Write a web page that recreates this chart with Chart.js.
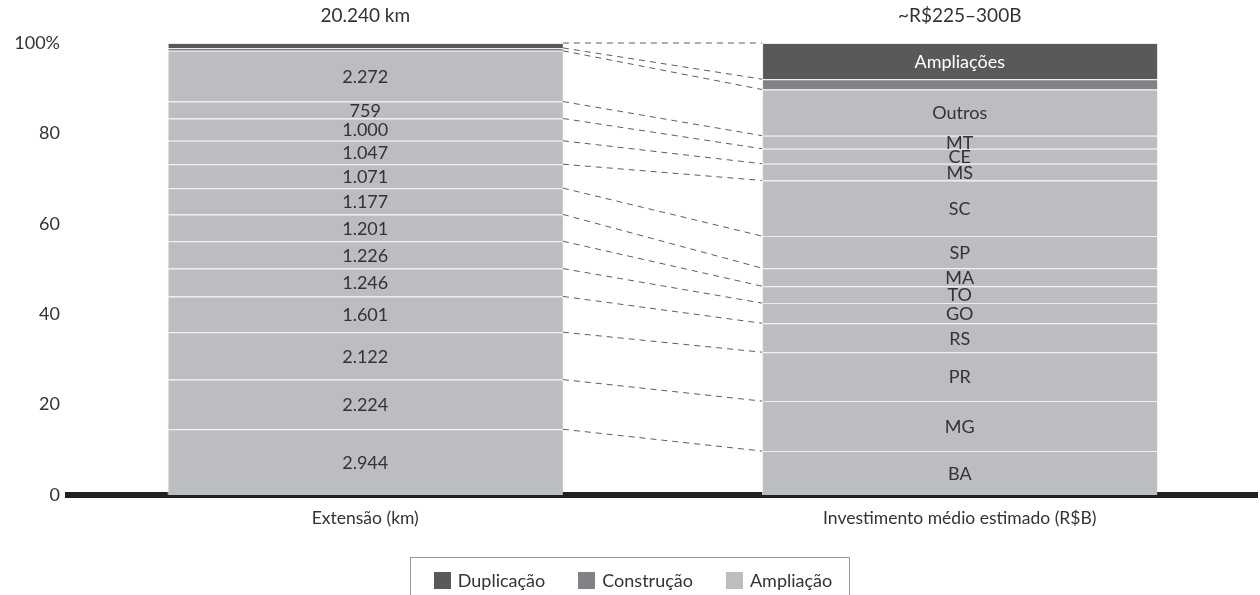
<!DOCTYPE html>
<html lang="pt-BR">
<head>
<meta charset="utf-8">
<title>Extensão e investimento por estado</title>
<script src="https://cdn.jsdelivr.net/npm/chart.js@4"></script>
<style>
  html, body { margin: 0; padding: 0; background: #fff; overflow: hidden; }
  #wrap { position: relative; width: 1260px; height: 595px; }
  #legenda {
    position: absolute; left: 410px; top: 557px; width: 440px; height: 60px;
    box-sizing: border-box; border: 1px solid #9a9a9a;
    display: flex; justify-content: center; align-items: flex-start; gap: 33px;
    padding-top: 11px; padding-left: 6px;
    font: 18px Lato, sans-serif; color: #333;
  }
  #legenda span { display: inline-flex; align-items: center; gap: 7px; }
  #legenda i { display: inline-block; width: 17px; height: 17px; }
</style>
</head>
<body>
<div id="wrap">
  <canvas id="grafico" width="1260" height="595"></canvas>
  <div id="legenda"></div>
</div>
<script>
/* EXTENSÃO (km) x INVESTIMENTO (R$B) - barras 100% empilhadas */
const categorias = ['Extensão (km)', 'Investimento médio estimado (R$B)'];
const estados = ['BA', 'MG', 'PR', 'RS', 'GO', 'TO', 'MA', 'SP', 'SC', 'MS', 'CE', 'MT', 'Outros'];

// ampliação por estado, de baixo para cima
const extensaoKm = [2944, 2224, 2122, 1601, 1246, 1226, 1201, 1177, 1071, 1047, 1000, 759, 2272];
const investimentoBi = [25.5, 29.0, 28.4, 16.8, 11.7, 9.8, 10.5, 18.6, 32.3, 9.7, 8.7, 7.6, 26.8];

// construção e duplicação no topo de cada barra
const construcaoKm = 130;
const duplicacaoKm = 220;
const construcaoBi = 6.0;
const duplicacaoBi = 21.0;
const rotuloDuplicacaoBi = 'Ampliações';
const faixaInvestimento = '~R$225–300B';

const yTicks = [0, 20, 40, 60, 80, 100];

const corAmpliacao = '#bcbdc0';
const corConstrucao = '#808285';
const corDuplicacao = '#58595b';
const fonte = 'Lato, sans-serif';

function milhar(v) {
    return String(v).replace(/\B(?=(\d{3})+(?!\d))/g, '.');
}

const kmTodos = extensaoKm.concat([construcaoKm, duplicacaoKm]);
const biTodos = investimentoBi.concat([construcaoBi, duplicacaoBi]);
const totalKm = kmTodos.reduce((a, b) => a + b, 0);
const totalBi = biTodos.reduce((a, b) => a + b, 0);

const cores = extensaoKm.map(() => corAmpliacao).concat([corConstrucao, corDuplicacao]);
const rotulosEsq = extensaoKm.map(milhar).concat(['', '']);
const rotulosDir = estados.concat(['', rotuloDuplicacaoBi]);

const datasets = kmTodos.map((km, i) => ({
    label: i < estados.length ? estados[i] : (i === estados.length ? 'Construção' : 'Duplicação'),
    data: [km / totalKm * 100, biTodos[i] / totalBi * 100],
    backgroundColor: cores[i],
    borderColor: '#ececec',
    borderWidth: { top: 1, right: 0, bottom: 0, left: 1 },
    borderSkipped: false,
    categoryPercentage: 1,
    barPercentage: 0.665
}));

// textos dentro das faixas e linhas tracejadas entre as barras
const faixasPlugin = {
    id: 'faixas',
    afterDatasetsDraw(chart) {
        const ctx = chart.ctx;
        ctx.save();
        ctx.strokeStyle = '#333';
        ctx.lineWidth = 0.8;
        ctx.setLineDash([6, 5]);
        chart.data.datasets.forEach((ds, i) => {
            const [esq, dir] = chart.getDatasetMeta(i).data;
            ctx.beginPath();
            ctx.moveTo(esq.x + esq.width / 2, esq.y);
            ctx.lineTo(dir.x - dir.width / 2, dir.y);
            ctx.stroke();
        });
        ctx.setLineDash([]);

        ctx.font = '18px ' + fonte;
        ctx.textAlign = 'center';
        ctx.textBaseline = 'middle';
        chart.data.datasets.forEach((ds, i) => {
            const [esq, dir] = chart.getDatasetMeta(i).data;
            ctx.fillStyle = '#333';
            if (rotulosEsq[i]) ctx.fillText(rotulosEsq[i], esq.x, (esq.y + esq.base) / 2 + 1);
            ctx.fillStyle = i === kmTodos.length - 1 ? '#fff' : '#333';
            if (rotulosDir[i]) ctx.fillText(rotulosDir[i], dir.x, (dir.y + dir.base) / 2 + 1);
        });
        ctx.restore();
    }
};

const ctx_grafico = document.getElementById('grafico').getContext('2d');
const grafico = new Chart(ctx_grafico, {
    type: 'bar',
    data: {
        labels: categorias,
        datasets: datasets
    },
    options: {
        responsive: false,
        animation: false,
        layout: { padding: { top: 4, right: 3, bottom: 65, left: 16 } },
        plugins: {
            legend: { display: false },
            tooltip: { enabled: false }
        },
        scales: {
            x: {
                stacked: true,
                z: 1,
                afterFit(scale) { scale.height = 35; },
                grid: { display: false, drawTicks: false },
                border: { color: '#231f20', width: 6 },
                ticks: { color: '#333', font: { family: fonte, size: 17.5 }, padding: 13 }
            },
            x2: {
                type: 'category',
                position: 'top',
                labels: [milhar(totalKm) + ' km', faixaInvestimento],
                offset: true,
                afterFit(scale) { scale.height = 39; },
                grid: { display: false, drawTicks: false },
                border: { display: false },
                ticks: { color: '#333', font: { family: fonte, size: 19 }, padding: 16 }
            },
            y: {
                stacked: true,
                min: 0,
                max: 100,
                afterFit(scale) { scale.width = 52; },
                afterBuildTicks(scale) { scale.ticks = yTicks.map(v => ({ value: v })); },
                grid: { display: false, drawTicks: false },
                border: { display: false },
                ticks: {
                    color: '#333',
                    font: { family: fonte, size: 18 },
                    padding: 8,
                    callback: v => v === 100 ? '100%' : v
                }
            }
        }
    },
    plugins: [faixasPlugin]
});

// legenda
const itensLegenda = [['Duplicação', corDuplicacao], ['Construção', corConstrucao], ['Ampliação', corAmpliacao]];
document.getElementById('legenda').innerHTML = itensLegenda
    .map(([nome, cor]) => '<span><i style="background:' + cor + '"></i>' + nome + '</span>')
    .join('');
</script>
</body>
</html>
